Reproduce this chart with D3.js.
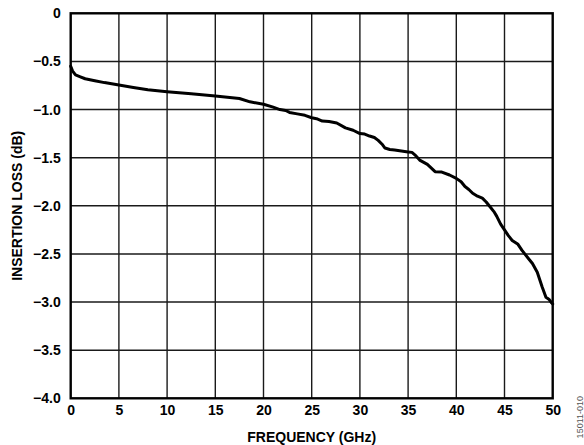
<!DOCTYPE html>
<html>
<head>
<meta charset="utf-8">
<script src="https://cdn.jsdelivr.net/npm/d3@7"></script>
<style>
  html, body { margin: 0; padding: 0; background: #fff; }
  svg { display: block; }
  text { font-family: "Liberation Sans", Arial, Helvetica, sans-serif; font-weight: bold; fill: #000; }
</style>
</head>
<body>
<svg id="chart" width="584" height="445"></svg>
<script>
const freqGHz = [0, 0.2, 0.5, 1, 1.5, 2.5, 3.5, 5, 6.5, 8, 10, 12.5, 15, 16.5, 17.5, 18.6, 20, 21, 21.7, 22.3, 22.7, 23.5, 24.3, 25, 25.5, 26.1, 26.8, 27.6, 28.5, 29.3, 30, 30.5, 31, 31.5, 31.9, 32.3, 32.6, 33.1, 33.6, 34.3, 35, 35.4, 35.7, 36.2, 37.0, 37.8, 38.5, 39.3, 40.0, 40.5, 40.9, 41.3, 41.7, 42.2, 42.7, 43.1, 43.5, 43.9, 44.2, 44.6, 45.0, 45.4, 45.8, 46.4, 46.8, 47.1, 47.5, 47.9, 48.4, 48.9, 49.3, 49.6, 49.9, 50];
const insertionLossDb = [-0.55, -0.60, -0.64, -0.66, -0.68, -0.70, -0.72, -0.745, -0.77, -0.795, -0.815, -0.835, -0.86, -0.875, -0.885, -0.92, -0.945, -0.975, -1.0, -1.01, -1.03, -1.045, -1.06, -1.085, -1.095, -1.12, -1.125, -1.14, -1.19, -1.215, -1.25, -1.255, -1.275, -1.29, -1.32, -1.36, -1.40, -1.415, -1.42, -1.43, -1.44, -1.445, -1.47, -1.525, -1.57, -1.645, -1.65, -1.68, -1.715, -1.75, -1.80, -1.83, -1.87, -1.90, -1.92, -1.96, -2.01, -2.06, -2.11, -2.19, -2.25, -2.31, -2.36, -2.40, -2.46, -2.50, -2.55, -2.60, -2.69, -2.84, -2.95, -2.97, -3.01, -3.02];
const xTicks = [0, 5, 10, 15, 20, 25, 30, 35, 40, 45, 50];
const yTicks = [0, -0.5, -1.0, -1.5, -2.0, -2.5, -3.0, -3.5, -4.0];
const xTitle = "FREQUENCY (GHz)";
const yTitle = "INSERTION LOSS (dB)";
const figureId = "15011-010";

(function () {
const svg = d3.select("#chart");
const pL = 70.7, pR = 552.7, pT = 13.3, pB = 398.3;

const x = d3.scaleLinear().domain([0, 50]).range([pL, pR]);
const y = d3.scaleLinear().domain([0, -4]).range([pT, pB]);

const fmtY = d => d === 0 ? "0" : d3.format(".1f")(d).replace("-", "\u2212");

const grid = svg.append("g");
grid.selectAll("line.vx").data(xTicks.slice(1, -1)).enter().append("line")
  .attr("x1", d => x(d)).attr("x2", d => x(d))
  .attr("y1", pT).attr("y2", pB)
  .attr("stroke", "#1a1a1a").attr("stroke-width", 1.4);
grid.selectAll("line.hy").data(yTicks.slice(1, -1)).enter().append("line")
  .attr("x1", pL).attr("x2", pR)
  .attr("y1", d => y(d)).attr("y2", d => y(d))
  .attr("stroke", "#1a1a1a").attr("stroke-width", 1.4);

const data = freqGHz.map((f, i) => [f, insertionLossDb[i]]);
svg.append("path")
  .datum(data)
  .attr("fill", "none")
  .attr("stroke", "#000")
  .attr("stroke-width", 3)
  .attr("stroke-linejoin", "round")
  .attr("stroke-linecap", "round")
  .attr("d", d3.line().x(d => x(d[0])).y(d => y(d[1])));

svg.append("rect")
  .attr("x", pL).attr("y", pT)
  .attr("width", pR - pL).attr("height", pB - pT)
  .attr("fill", "none").attr("stroke", "#000").attr("stroke-width", 2.4);

const xAxis = svg.append("g")
  .attr("transform", `translate(0,${pB})`)
  .call(d3.axisBottom(x).tickValues(xTicks).tickSize(0).tickPadding(7).tickFormat(d3.format("d")));
xAxis.select(".domain").remove();
xAxis.selectAll("text").style("font-size", "14px").style("font-family", "'Liberation Sans', Arial, sans-serif").style("font-weight", "bold").attr("fill", "#000");

const yAxis = svg.append("g")
  .attr("transform", `translate(${pL},0)`)
  .call(d3.axisLeft(y).tickValues(yTicks).tickSize(0).tickPadding(10).tickFormat(fmtY));
yAxis.select(".domain").remove();
yAxis.selectAll("text").style("font-size", "14px").style("font-family", "'Liberation Sans', Arial, sans-serif").style("font-weight", "bold").attr("fill", "#000");

svg.append("text")
  .attr("x", (pL + pR) / 2).attr("y", 442)
  .attr("text-anchor", "middle")
  .style("font-size", "14px")
  .text(xTitle);

svg.append("text")
  .attr("transform", `translate(22,${(pT + pB) / 2}) rotate(-90)`)
  .attr("text-anchor", "middle")
  .style("font-size", "14px")
  .text(yTitle);

svg.append("text")
  .attr("transform", `translate(583,396) rotate(-90)`)
  .attr("text-anchor", "end")
  .style("font-size", "9px")
  .style("font-weight", "normal")
  .style("fill", "#555")
  .text(figureId);
})();
</script>
</body>
</html>
